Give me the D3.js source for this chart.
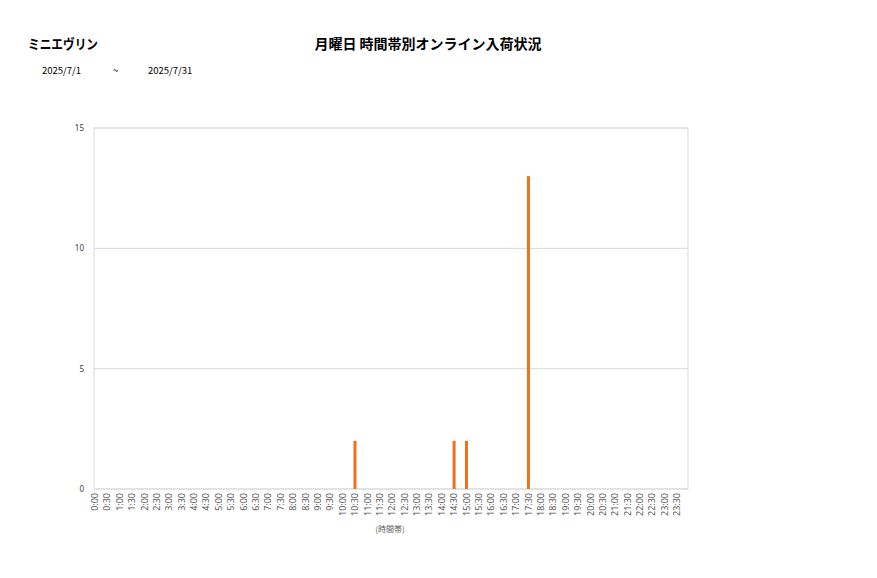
<!DOCTYPE html>
<html>
<head>
<meta charset="utf-8">
<script src="https://cdn.jsdelivr.net/npm/d3@7"></script>
<style>
  body { margin: 0; background: #fff; }
  text { font-family: "Noto Sans CJK JP", "Noto Sans", sans-serif; }
</style>
</head>
<body>
<svg id="chart" width="877" height="578"></svg>
<script>
// chart values
const shopName = "ミニエヴリン";
const chartTitle = "月曜日 時間帯別オンライン入荷状況";
const dateFrom = "2025/7/1";
const dateTo = "2025/7/31";
const xAxisTitle = "(時間帯)";
const timeSlots = [];
for (let h = 0; h < 24; h++) {
    timeSlots.push(h + ":00", h + ":30");
}
const barSlots = ["10:30", "14:30", "15:00", "17:30"];
const barValues = [2, 2, 2, 13];
const yTicks = [0, 5, 10, 15];

const svg = d3.select("#chart");
const margin = {left: 94, top: 128, right: 189, bottom: 89};
const plotW = 877 - margin.left - margin.right;
const plotH = 578 - margin.top - margin.bottom;

// categories sit a little left of the frame, like the original
const x = d3.scaleBand().domain(timeSlots).range([-5.4, plotW - 4.7]);
const y = d3.scaleLinear().domain([0, 15]).range([plotH, 0]);

svg.append("text")
    .attr("x", 28).attr("y", 49)
    .attr("font-size", 13.5).attr("font-weight", "bold")
    .attr("fill", "#000")
    .attr("textLength", 70)
    .attr("lengthAdjust", "spacingAndGlyphs")
    .text(shopName);

svg.append("text")
    .attr("x", 428).attr("y", 49)
    .attr("text-anchor", "middle")
    .attr("font-size", 14).attr("font-weight", "bold")
    .attr("fill", "#000")
    .text(chartTitle);

svg.append("text").attr("x", 42).attr("y", 74).attr("font-size", 9.5).text(dateFrom);
svg.append("text").attr("x", 113).attr("y", 74).attr("font-size", 9.5).text("~");
svg.append("text").attr("x", 148).attr("y", 74).attr("font-size", 9.5).text(dateTo);

const g = svg.append("g")
    .attr("transform", "translate(" + margin.left + "," + margin.top + ")");

// grid lines
g.selectAll(".grid")
    .data(yTicks)
    .enter()
    .append("line")
    .attr("x1", 0).attr("x2", plotW)
    .attr("y1", d => y(d)).attr("y2", d => y(d))
    .attr("stroke", "#d9d9d9").attr("stroke-width", 1);

g.append("rect")
    .attr("x", 0).attr("y", 0)
    .attr("width", plotW).attr("height", plotH)
    .attr("fill", "none")
    .attr("stroke", "#d9d9d9");

// bars
const barW = 3;
g.selectAll(".bar")
    .data(barSlots.map((s, i) => ({slot: s, value: barValues[i]})))
    .enter()
    .append("rect")
    .attr("x", d => x(d.slot) + x.bandwidth() / 2 - barW / 2)
    .attr("y", d => y(d.value))
    .attr("width", barW)
    .attr("height", d => plotH - y(d.value))
    .attr("fill", "#f0701a");

// y axis
const yAxis = g.append("g")
    .call(d3.axisLeft(y).tickValues(yTicks).tickSize(0).tickPadding(10));
yAxis.select(".domain").remove();
yAxis.selectAll("text")
    .attr("font-size", 8)
    .attr("fill", "#404040")
    .style("font-family", "'Noto Sans', sans-serif");

// x axis
const xAxis = g.append("g")
    .attr("transform", "translate(0," + plotH + ")")
    .call(d3.axisBottom(x).tickSize(0));
xAxis.select(".domain").remove();
xAxis.selectAll("text")
    .attr("font-size", 9)
    .attr("fill", "#595959")
    .attr("text-anchor", "end")
    .attr("transform", "rotate(-90)")
    .attr("x", -4)
    .attr("y", 0)
    .attr("dy", "0.35em")
    .style("font-family", "'Noto Sans', sans-serif");

svg.append("text")
    .attr("x", 390)
    .attr("y", 532)
    .attr("text-anchor", "middle")
    .attr("font-size", 8)
    .attr("fill", "#595959")
    .text(xAxisTitle);
</script>
</body>
</html>
